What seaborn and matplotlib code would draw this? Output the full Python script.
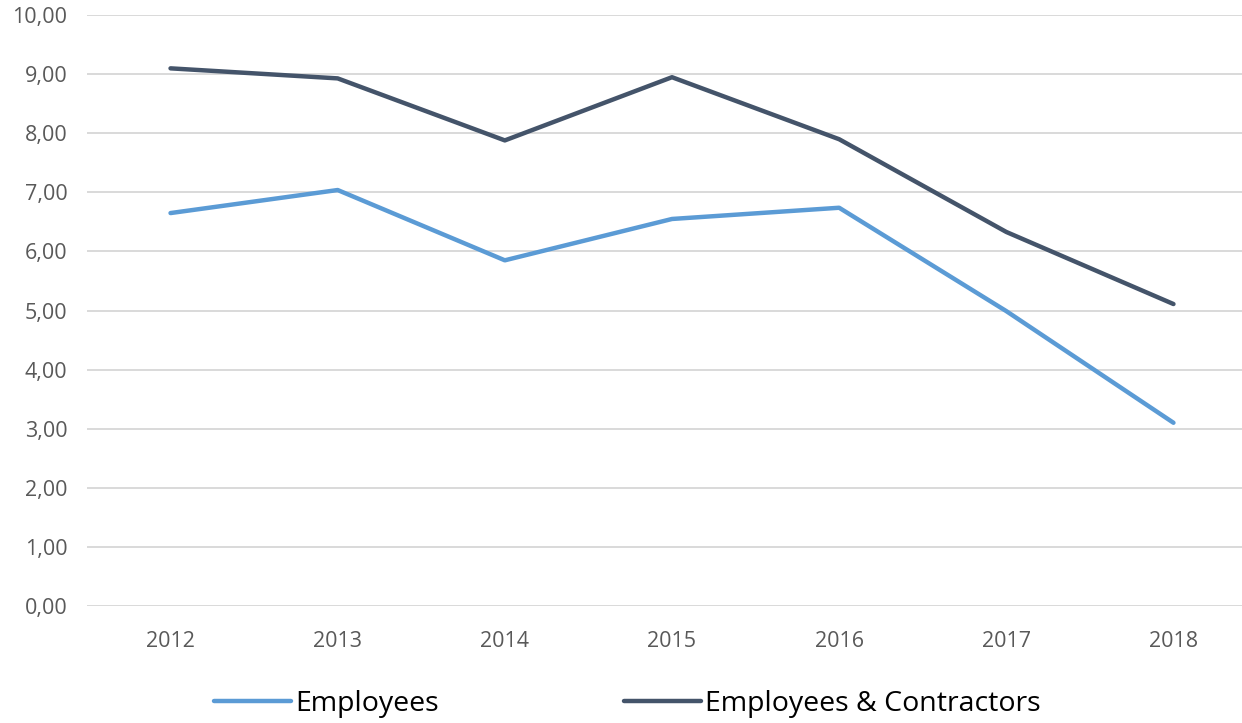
import pandas as pd
import seaborn as sns
import matplotlib.pyplot as plt

years = ['2012', '2013', '2014', '2015', '2016', '2017', '2018']
employees = [6.65, 7.04, 5.85, 6.55, 6.74, 4.99, 3.10]
employees_contractors = [9.10, 8.93, 7.88, 8.95, 7.90, 6.33, 5.11]
y_ticks = [0, 1, 2, 3, 4, 5, 6, 7, 8, 9, 10]

df = pd.concat([
    pd.DataFrame({'year': years, 'value': employees, 'series': 'Employees'}),
    pd.DataFrame({'year': years, 'value': employees_contractors, 'series': 'Employees & Contractors'}),
])

sns.set_style('white')
plt.rcParams['font.family'] = ['Open Sans', 'DejaVu Sans']

fig = plt.figure(figsize=(12.42, 7.23), dpi=100)
ax = fig.add_axes([0.070, 0.162, 0.930, 0.817])

sns.lineplot(data=df, x='year', y='value', hue='series',
             palette={'Employees': '#5B9BD5', 'Employees & Contractors': '#44546A'},
             linewidth=3.2, ax=ax, legend=True)

ax.set_ylim(0, 10)
ax.set_xlim(-0.5, 6.41)
ax.set_yticks(y_ticks)
ax.set_yticklabels([f'{v},00' for v in y_ticks])
ax.yaxis.grid(True, color='#d9d9d9', linewidth=1.4)
ax.set_axisbelow(True)
for s in ax.spines.values():
    s.set_visible(False)
ax.tick_params(axis='both', length=0, labelsize=15.5, labelcolor='#595959')
ax.tick_params(axis='x', pad=18)
ax.tick_params(axis='y', pad=14)
ax.set_xlabel('')
ax.set_ylabel('')

handles, labels = ax.get_legend_handles_labels()
ax.get_legend().remove()
fig.legend(handles, labels, loc='center', bbox_to_anchor=(0.505, 0.026), ncol=2,
           frameon=False, fontsize=20.5, handlelength=2.7, handletextpad=0.15,
           columnspacing=6.5, labelcolor='black')

fig.savefig('out.png', dpi=100)
